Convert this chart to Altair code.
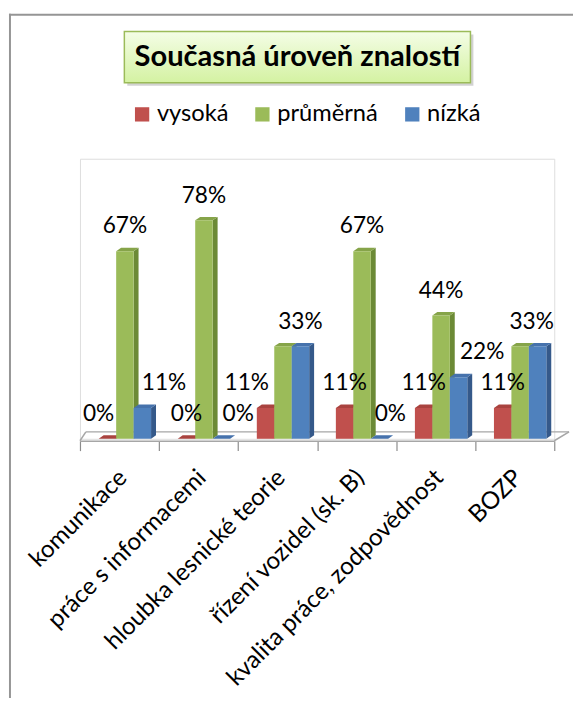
import json
import altair as alt
import pandas as pd

# ---------------- data ----------------
categories = ["komunikace", "práce s informacemi", "hloubka lesnické teorie",
              "řízení vozidel (sk. B)", "kvalita práce, zodpovědnost", "BOZP"]
series = ["vysoká", "průměrná", "nízká"]
vysoka = [0, 0, 11, 11, 11, 11]
prumerna = [67, 78, 33, 67, 44, 33]
nizka = [11, 0, 33, 0, 22, 33]
title_text = "Současná úroveň znalostí"

# ---------------- style ----------------
FONT = "Lato"
PLOT_W, PLOT_H = 481, 284
front_colors = ["#C0504D", "#9BBB59", "#4F81BD"]
top_colors = ["#A9433F", "#86A449", "#4672AC"]
side_colors = ["#8E3532", "#6C8A36", "#35598A"]
BAR_W_PX = 17.7
GROUP_START_PX = 19
DEPTH_X_PX = 5
DEPTH_Y_PX = 3.5
LABEL_SIZE = 23
# manual nudges of data labels (px), as in the original chart
label_nudge_px = {(0, 0): -9, (0, 2): 22, (1, 2): 17, (2, 0): -19,
                  (3, 2): 11, (4, 2): 24, (5, 2): -6}
hidden_labels = {(2, 1), (5, 1)}

ncat = len(categories)
ux = PLOT_W / ncat          # px per x unit
uy = PLOT_H / 100.0         # px per y unit
bw = BAR_W_PX / ux
g0 = GROUP_START_PX / ux
dx = DEPTH_X_PX / ux
dy = DEPTH_Y_PX / uy

values = [vysoka, prumerna, nizka]

bar_rows, face_rows = [], []
for ci, cat in enumerate(categories):
    for si, s in enumerate(series):
        v = values[si][ci]
        xl = ci + g0 + si * bw
        xr = xl + bw
        bid = f"{ci}-{si}"
        bar_rows.append(dict(cat=cat, series=s, value=v, base=0, xl=xl, xr=xr,
                             lx=(xl + xr) / 2 + label_nudge_px.get((ci, si), 0) / ux,
                             label=f"{v}%", show=(ci, si) not in hidden_labels))
        # side face (parallelogram)
        face_rows += [
            dict(id="s" + bid, kind="side", x=xr, y=v, y2=0, fill=side_colors[si]),
            dict(id="s" + bid, kind="side", x=xr + dx, y=v + dy, y2=dy, fill=side_colors[si]),
        ]
        # top face (parallelogram)
        face_rows += [
            dict(id="t" + bid, kind="top", x=xl, y=v, y2=v, fill=top_colors[si]),
            dict(id="t" + bid, kind="top", x=xl + dx, y=v + dy, y2=v, fill=top_colors[si]),
            dict(id="t" + bid, kind="top", x=xr, y=v + dy, y2=v, fill=top_colors[si]),
            dict(id="t" + bid, kind="top", x=xr + dx, y=v + dy, y2=v + dy, fill=top_colors[si]),
        ]

bars = pd.DataFrame(bar_rows)
faces = pd.DataFrame(face_rows)

fy0 = -2 / uy
fy1 = 7 / uy
floor = pd.DataFrame([
    dict(x=6 / ux, y=fy1, x2=ncat + 15 / ux, y2=fy1),
    dict(x=0, y=fy0, x2=6 / ux, y2=fy1),
    dict(x=ncat, y=fy0, x2=ncat + 15 / ux, y2=fy1),
])

xscale = alt.Scale(domain=[0, ncat], nice=False, zero=False)
yscale = alt.Scale(domain=[0, 100], nice=False, zero=False)

label_expr = (f"datum.value < {ncat} ? {json.dumps(categories, ensure_ascii=False)}"
              f"[round(datum.value)] : ''")
xaxis = alt.Axis(values=list(range(ncat + 1)), labelExpr=label_expr, title=None,
                 grid=False, offset=2, domainColor="#A6A6A6", domainWidth=1.5,
                 tickColor="#8C8C8C", tickSize=10, tickWidth=1.2,
                 labelAngle=-45, labelAlign="right", labelBaseline="top",
                 labelOffset=ux / 2 - 5, labelPadding=15, labelFont=FONT,
                 labelFontSize=24.5, labelColor="#000000", labelLimit=0,
                 labelOverlap=False, labelFlush=False, labelBound=False)

def X(field):
    return alt.X(field, type="quantitative", scale=xscale, axis=xaxis)

def Y(field):
    return alt.Y(field, type="quantitative", scale=yscale, axis=None, stack=None)

# --- decorations: chart-area frame, title box
frame_left = alt.Chart().mark_rule(color="#959595", strokeWidth=2).encode(
    x=alt.value(-71), y=alt.value(-147), y2=alt.value(600))
frame_top = alt.Chart().mark_rule(color="#959595", strokeWidth=2).encode(
    x=alt.value(-72), x2=alt.value(520), y=alt.value(-146))

shadow = alt.Chart().mark_rect(color="#7F7F7F", opacity=0.35).encode(
    x=alt.value(48), x2=alt.value(399), y=alt.value(-126), y2=alt.value(-74))
title_box = alt.Chart().mark_rect(
    fill=alt.Gradient(gradient="linear",
                      stops=[alt.GradientStop(color="#F4FDE6", offset=0),
                             alt.GradientStop(color="#D4F2A2", offset=1)],
                      x1=0, x2=0, y1=0, y2=1),
    stroke="#9BBB59", strokeWidth=1.5).encode(
    x=alt.value(45), x2=alt.value(396), y=alt.value(-129), y2=alt.value(-77))
title = alt.Chart().mark_text(text=title_text, font=FONT, fontSize=29.5,
                              fontWeight="bold", color="#000000",
                              align="center", baseline="middle").encode(
    x=alt.value(220.5), y=alt.value(-103))

# --- floor
floor_layer = alt.Chart(floor).mark_rule(color="#A6A6A6", strokeWidth=1.5).encode(
    x=X("x"), x2="x2", y=Y("y"), y2="y2")

# --- bar faces
side_layer = alt.Chart(faces).transform_filter("datum.kind == 'side'").mark_area(
    orient="vertical", interpolate="linear").encode(
    x=X("x"), y=Y("y"), y2="y2", detail="id:N",
    color=alt.Color("fill:N", scale=None))
top_layer = alt.Chart(faces).transform_filter("datum.kind == 'top'").mark_area(
    orient="vertical", interpolate="linear").encode(
    x=X("x"), y=Y("y"), y2="y2", detail="id:N",
    color=alt.Color("fill:N", scale=None))

front_layer = alt.Chart(bars).mark_rect().encode(
    x=X("xl"), x2="xr", y=Y("value"), y2="base",
    color=alt.Color("series:N",
                    scale=alt.Scale(domain=series, range=front_colors),
                    legend=alt.Legend(title=None, orient="none", direction="horizontal",
                                      legendX=51, legendY=-57, padding=0,
                                      symbolType="square", symbolSize=210,
                                      symbolStrokeWidth=0, labelFont=FONT,
                                      labelFontSize=24, labelColor="#000000",
                                      labelOffset=3, columnPadding=22)))

labels = alt.Chart(bars).transform_filter("datum.show").mark_text(
    font=FONT, fontSize=LABEL_SIZE, color="#000000", align="center",
    baseline="alphabetic", dy=-18).encode(
    x=X("lx"), y=Y("value"), text="label:N")

chart = alt.layer(
    frame_left, frame_top, shadow, title_box, title,
    floor_layer, side_layer, top_layer, front_layer, labels
).properties(
    width=PLOT_W, height=PLOT_H,
    padding={"left": 73, "top": 148, "right": 19, "bottom": 258},
    autosize=alt.AutoSizeParams(type="none"),
).configure_view(stroke=None).configure(font=FONT)

chart.save("out.html", embed_options={"renderer": "svg", "actions": False})
